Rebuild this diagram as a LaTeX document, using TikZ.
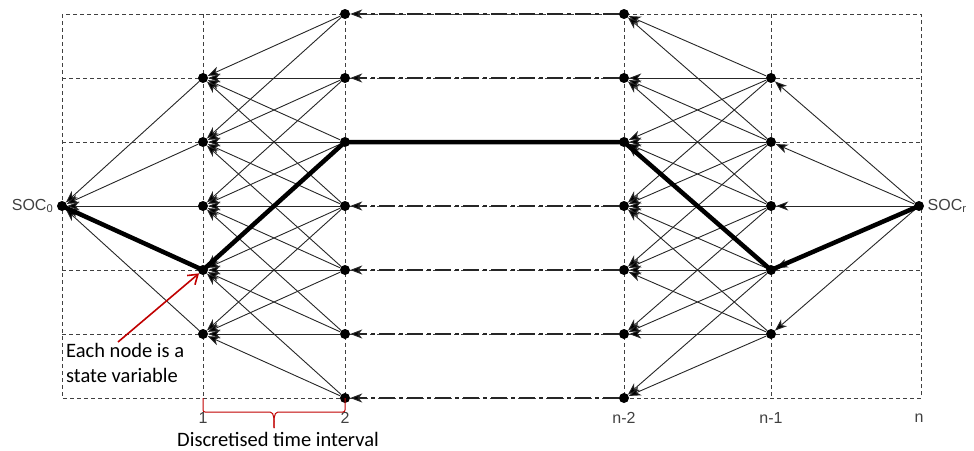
\documentclass[tikz,border=0pt]{standalone}
\usepackage{fontspec}
\setmainfont{Liberation Sans}
\newfontfamily\notefont{Carlito}
\usetikzlibrary{arrows.meta}
\definecolor{notered}{RGB}{192,0,0}
\definecolor{labelgray}{RGB}{64,64,64}

\begin{document}
\begin{tikzpicture}[x=1pt,y=-1pt,
  state/.style={circle,fill=black,inner sep=0pt,minimum size=10pt},
  edge/.style={draw=black!85,line width=0.9pt,-{Stealth[length=12pt,width=9pt,inset=3.5pt,fill=black]}},
  link/.style={edge,line width=1.1pt,dash pattern=on 16pt off 4pt on 4pt off 4pt},
  best/.style={line width=4.5pt,line cap=round,line join=round},
  gridline/.style={draw=black!75,line width=0.7pt,dash pattern=on 4pt off 3pt},
  collabel/.style={text=labelgray,font=\fontsize{16}{19}\selectfont},
  note/.style={font=\notefont\fontsize{20.5}{25}\selectfont,inner sep=0pt},
  pointer/.style={draw=notered,line width=1.6pt,-{Straight Barb[length=9pt,width=12pt]}},
  timebrace/.style={draw=notered,line width=1pt,rounded corners=2pt}]
\useasboundingbox (0,0) rectangle (974,450);

%dashed grid
\draw[gridline] (62,14) rectangle (921,398);
\foreach \y in {78,142,206,270,334}
	\draw[gridline] (62,\y) -- (921,\y);
\foreach \x in {203,345,624,771}
	\draw[gridline] (\x,14) -- (\x,398);

%states
\node[state] (soc0) at (62,206) {};
\node[state] (socr) at (919,206) {};
\foreach \r in {1,...,5}{
	\node[state] (t1-\r) at (203,14+64*\r) {};
	\node[state] (tm1-\r) at (771,14+64*\r) {};
}
\foreach \r in {0,...,6}{
	\node[state] (t2-\r) at (345,14+64*\r) {};
	\node[state] (tm2-\r) at (624,14+64*\r) {};
}

%transitions, pointing back in time
\foreach \r in {1,...,5}{
	\draw[edge] (t1-\r) -- (soc0);
	\draw[edge] (socr) -- (tm1-\r);
	\pgfmathtruncatemacro\lo{max(0,\r-2)}
	\pgfmathtruncatemacro\hi{min(6,\r+2)}
	\foreach \s in {\lo,...,\hi}{
		\draw[edge] (t2-\s) -- (t1-\r);
		\draw[edge] (tm1-\r) -- (tm2-\s);
	}
}
\foreach \r in {0,1,3,4,5,6}
	\draw[link] (tm2-\r) -- (t2-\r);

%optimal path
\draw[best] (soc0.center) -- (t1-4.center) -- (t2-2.center) -- (tm2-2.center)
	-- (tm1-4.center) -- (socr.center);

%labels
\node[collabel,anchor=east] at (soc0.west) {SOC\textsubscript{0}};
\node[collabel,anchor=west] at (socr.east) {SOC\textsubscript{r}};
\node[collabel] at (203,418) {1};
\node[collabel] at (345,418) {2};
\node[collabel] at (624,418) {n-2};
\node[collabel] at (771,418) {n-1};
\node[collabel] at (919,418) {n};

%annotations
\node[note,anchor=north west,align=left] (note) at (66,343) {Each node is a\\state variable};
\coordinate (tail) at (118,342);
\draw[pointer] (tail) -- (t1-4);
\coordinate (bl) at (203,398);
\coordinate (br) at (345,398);
\coordinate (tip) at (274,428);
\draw[timebrace] (bl) -- (203,412) -- (268,412) to[out=0,in=90] (tip);
\draw[timebrace] (br) -- (345,412) -- (280,412) to[out=180,in=90] (tip);
\node[note] (interval) at (278,439) {Discretised time interval};
\end{tikzpicture}
\end{document}
